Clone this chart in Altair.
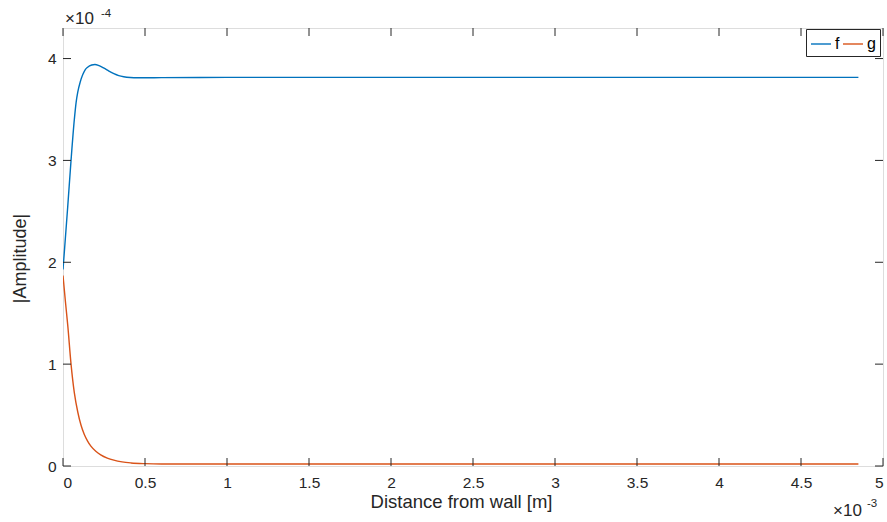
import altair as alt
import pandas as pd

# Values (x in units of 1e-3 m, y in units of 1e-4)
f_x = [0, 0.01, 0.029, 0.049, 0.069, 0.08, 0.09, 0.105, 0.12, 0.135, 0.15, 0.175, 0.195,
       0.22, 0.25, 0.28, 0.31, 0.34, 0.37, 0.41, 0.455, 0.5, 0.6, 1.0, 2.0, 3.0, 4.0, 4.85]
f_y = [1.93, 2.14, 2.55, 3.0, 3.40, 3.57, 3.67, 3.77, 3.84, 3.89, 3.915, 3.937, 3.942,
       3.93, 3.905, 3.877, 3.852, 3.833, 3.822, 3.814, 3.811, 3.811, 3.813, 3.815, 3.815, 3.815, 3.815, 3.815]

g_x = [0, 0.015, 0.029, 0.049, 0.069, 0.09, 0.11, 0.13, 0.15, 0.17, 0.2, 0.23, 0.27,
       0.31, 0.36, 0.415, 0.5, 0.6, 1.0, 2.0, 3.0, 4.0, 4.85]
g_y = [1.87, 1.61, 1.38, 1.0, 0.72, 0.53, 0.40, 0.31, 0.245, 0.195, 0.145, 0.11, 0.078,
       0.057, 0.04, 0.03, 0.023, 0.02, 0.02, 0.02, 0.02, 0.02, 0.02]

series_names = ["f", "g"]
series_colors = ["#0072BD", "#D95319"]

x_ticks = [0, 0.5, 1, 1.5, 2, 2.5, 3, 3.5, 4, 4.5, 5]
y_ticks = [0, 1, 2, 3, 4]

df = pd.concat([
    pd.DataFrame({"x": f_x, "y": f_y, "s": "f", "o": range(len(f_x))}),
    pd.DataFrame({"x": g_x, "y": g_y, "s": "g", "o": range(len(g_x))}),
])

W, H = 820, 438
AX = "#262626"
FONT = "Liberation Sans"

xscale = alt.Scale(domain=[0, 5], nice=False, zero=False)
yscale = alt.Scale(domain=[0, 4.3], nice=False, zero=False)

lines = alt.Chart(df).mark_line(strokeWidth=1.4, interpolate="monotone", clip=True).encode(
    x=alt.X("x:Q", scale=xscale,
            axis=alt.Axis(values=x_ticks, format="~g", ticks=False, domain=False, grid=False,
                          labelPadding=9, labelFontSize=15.5, labelFont=FONT, labelColor=AX,
                          title="Distance from wall [m]", titleFont=FONT, titleFontSize=18.5,
                          titleFontWeight="normal", titleColor=AX,
                          titleX=398, titleY=41, titleBaseline="alphabetic", titleAlign="center")),
    y=alt.Y("y:Q", scale=yscale,
            axis=alt.Axis(values=y_ticks, format="~g", ticks=False, domain=False, grid=False,
                          labelPadding=7, labelFontSize=15.5, labelFont=FONT, labelColor=AX,
                          title="|Amplitude|", titleFont=FONT, titleFontSize=18,
                          titleFontWeight="normal", titleColor=AX,
                          titleX=-38, titleY=230, titleBaseline="alphabetic", titleAlign="center",
                          titleAngle=-90)),
    color=alt.Color("s:N", scale=alt.Scale(domain=series_names, range=series_colors),
                    legend=alt.Legend(title=None, orient="none", legendX=743, legendY=1,
                                      direction="horizontal", columns=2,
                                      symbolType="stroke", symbolSize=400, symbolStrokeWidth=1.4,
                                      labelFont=FONT, labelFontSize=16, labelColor="#000000",
                                      labelOffset=3, columnPadding=0, padding=4,
                                      strokeColor=AX, fillColor="white")),
    order="o:Q",
)

xt = pd.DataFrame({"x": x_ticks})
yt = pd.DataFrame({"y": y_ticks})

tick_bottom = alt.Chart(xt).mark_rule(color=AX, strokeWidth=1).encode(
    x=alt.X("x:Q", scale=xscale), y=alt.value(H), y2=alt.value(H - 8))
tick_top = alt.Chart(xt).mark_rule(color=AX, strokeWidth=1).encode(
    x=alt.X("x:Q", scale=xscale), y=alt.value(0), y2=alt.value(8))
tick_left = alt.Chart(yt).mark_rule(color=AX, strokeWidth=1).encode(
    y=alt.Y("y:Q", scale=yscale), x=alt.value(0), x2=alt.value(8))
tick_right = alt.Chart(yt).mark_rule(color=AX, strokeWidth=1).encode(
    y=alt.Y("y:Q", scale=yscale), x=alt.value(W), x2=alt.value(W - 8))

def txt(s, x, y, size):
    return alt.Chart(pd.DataFrame({"t": [s]})).mark_text(
        align="left", baseline="alphabetic", font=FONT, fontSize=size, color=AX
    ).encode(text="t:N", x=alt.value(x), y=alt.value(y))

exp_y_base = txt("×10", 2, -4, 17)
exp_y_sup = txt("-4", 38, -11, 11.5)
exp_x_base = txt("×10", 770, 488, 17)
exp_x_sup = txt("-3", 804, 479, 11.5)

chart = alt.layer(
    lines, tick_bottom, tick_top, tick_left, tick_right,
    exp_y_base, exp_y_sup, exp_x_base, exp_x_sup
).properties(
    width=W, height=H,
    autosize=alt.AutoSizeParams(type="none"),
    padding={"left": 63, "top": 28, "right": 4, "bottom": 56},
).configure_view(
    stroke=AX, strokeWidth=1
).configure(background="white")

chart.save("out.html", embed_options={"renderer": "svg", "actions": False})
